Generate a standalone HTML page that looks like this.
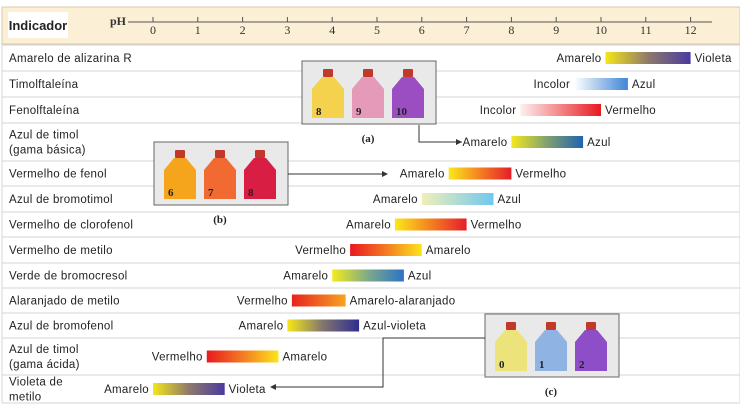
<!DOCTYPE html>
<html><head><meta charset="utf-8"><style>
body{margin:0;background:#fff;}
svg{display:block;font-family:"Liberation Sans","DejaVu Sans",sans-serif;}
</style></head><body>
<svg id="chart" width="740" height="405" viewBox="0 0 740 405">
<defs>
<linearGradient id="g-yv"><stop offset="0" stop-color="#f5e51a"/><stop offset="0.5" stop-color="#8e7a6a"/><stop offset="1" stop-color="#4a3aa0"/></linearGradient>
<linearGradient id="g-wb"><stop offset="0" stop-color="#ffffff"/><stop offset="1" stop-color="#3f86d4"/></linearGradient>
<linearGradient id="g-wr"><stop offset="0" stop-color="#fdf0ee"/><stop offset="1" stop-color="#e8191f"/></linearGradient>
<linearGradient id="g-yb"><stop offset="0" stop-color="#f3e81c"/><stop offset="0.5" stop-color="#7fa070"/><stop offset="1" stop-color="#1f63b0"/></linearGradient>
<linearGradient id="g-yr"><stop offset="0" stop-color="#fbe81a"/><stop offset="0.5" stop-color="#f48020"/><stop offset="1" stop-color="#e51d2a"/></linearGradient>
<linearGradient id="g-ylb"><stop offset="0" stop-color="#f1efb8"/><stop offset="1" stop-color="#6fc8ef"/></linearGradient>
<linearGradient id="g-ry"><stop offset="0" stop-color="#e8191f"/><stop offset="0.5" stop-color="#f47a22"/><stop offset="1" stop-color="#fbe51c"/></linearGradient>
<linearGradient id="g-yb2"><stop offset="0" stop-color="#f3ec1c"/><stop offset="0.5" stop-color="#7ea98a"/><stop offset="1" stop-color="#2a74c4"/></linearGradient>
<linearGradient id="g-ro"><stop offset="0" stop-color="#e8221f"/><stop offset="1" stop-color="#f7a420"/></linearGradient>
<linearGradient id="g-ybv"><stop offset="0" stop-color="#f5e81a"/><stop offset="0.5" stop-color="#807470"/><stop offset="1" stop-color="#2e2e90"/></linearGradient>
</defs>
<rect x="2" y="7" width="738" height="37" fill="#fbefd6" stroke="#d8c8a8"/>
<rect x="8" y="12" width="60" height="26" fill="#fff"/>
<text x="38" y="30" font-size="13" font-weight="bold" text-anchor="middle" fill="#222">Indicador</text>
<text x="110" y="25" font-size="12" font-weight="bold" font-family="Liberation Serif,serif" fill="#333">pH</text>
<line x1="128" y1="22" x2="712" y2="22" stroke="#555" stroke-width="1"/>
<g id="ticks"></g>
<g id="rows"></g>
<g id="bars"></g>
<g id="photos"></g>
</svg>
<script>
const phTicks=[0,1,2,3,4,5,6,7,8,9,10,11,12];
const indicators=["Amarelo de alizarina R","Timolftaleína","Fenolftaleína","Azul de timol|(gama básica)","Vermelho de fenol","Azul de bromotimol","Vermelho de clorofenol","Vermelho de metilo","Verde de bromocresol","Alaranjado de metilo","Azul de bromofenol","Azul de timol|(gama ácida)","Violeta de|metilo"];
const phLow=[10.1,9.4,8.2,8.0,6.6,6.0,5.4,4.4,4.0,3.1,3.0,1.2,0.0];
const phHigh=[12.0,10.6,10.0,9.6,8.0,7.6,7.0,6.0,5.6,4.3,4.6,2.8,1.6];
const acidColor=["Amarelo","Incolor","Incolor","Amarelo","Amarelo","Amarelo","Amarelo","Vermelho","Amarelo","Vermelho","Amarelo","Vermelho","Amarelo"];
const baseColor=["Violeta","Azul","Vermelho","Azul","Vermelho","Azul","Vermelho","Amarelo","Azul","Amarelo-alaranjado","Azul-violeta","Amarelo","Violeta"];
const grads=["g-yv","g-wb","g-wr","g-yb","g-yr","g-ylb","g-yr","g-ry","g-yb2","g-ro","g-ybv","g-ry","g-yv"];
const rowTop=[45,71,97,123,161,186,212,237,263,288,313,338,375];
const rowBot=[71,97,123,161,186,212,237,263,288,313,338,375,403];
const NS="http://www.w3.org/2000/svg";
function x(ph){return 153+44.8*ph;}
function mk(tag,attrs,parent){const e=document.createElementNS(NS,tag);for(const k in attrs)e.setAttribute(k,attrs[k]);parent.appendChild(e);return e;}
const tg=document.getElementById('ticks');
phTicks.forEach(t=>{
 const l=mk('line',{x1:x(t),y1:17,x2:x(t),y2:22,stroke:'#555'},tg);
 
 
 const tx=mk('text',{x:x(t),y:34,'font-size':12,'text-anchor':'middle','font-family':'Liberation Serif,serif',fill:'#333'},tg);
 tx.textContent=t;
 
 
});
const rg=document.getElementById('rows'),bg=document.getElementById('bars');
indicators.forEach((name,i)=>{
 const r=mk('rect',{x:2,y:rowTop[i],width:738,height:rowBot[i]-rowTop[i],fill:'#fff',stroke:'#d6d6d6'},rg);
 
 
 const cy=(rowTop[i]+rowBot[i])/2;
 const parts=name.split('|');
 parts.forEach((p,j)=>{
  const t=mk('text',{x:9,y:cy+4+(parts.length>1?(j-0.5)*15:0),'font-size':11.5,'letter-spacing':0.3,fill:'#222'},rg);
  t.textContent=p;
  
  
 });
 const x0=x(phLow[i]),x1=x(phHigh[i]);
 const b=mk('rect',{x:x0,y:cy-6,width:x1-x0,height:12,fill:'url(#'+grads[i]+')'},bg);
 
 
 const a=mk('text',{x:x0-4,y:cy+4,'font-size':11.5,'letter-spacing':0.3,'text-anchor':'end',fill:'#222'},bg);
 a.textContent=acidColor[i];
 
 
 const c=mk('text',{x:x1+4,y:cy+4,'font-size':11.5,'letter-spacing':0.3,fill:'#222'},bg);
 c.textContent=baseColor[i];
 
 
});
const pg=document.getElementById('photos');
function photo(bx,by,cols,nums,label,name){
 const g=mk('g',{},pg);
 
 
 mk('rect',{x:bx,y:by,width:134,height:63,fill:'#e9e9e9',stroke:'#666'},g);
 cols.forEach((c,k)=>{
  const cx=bx+26+k*40;
  mk('rect',{x:cx-5,y:by+8,width:10,height:8,fill:'#c0392b',rx:1},g);
  mk('path',{d:`M${cx-6} ${by+16} L${cx+6} ${by+16} L${cx+16} ${by+28} L${cx+16} ${by+57} L${cx-16} ${by+57} L${cx-16} ${by+28} Z`,fill:c},g);
  const t=mk('text',{x:cx-12,y:by+54,'font-size':11,'font-weight':'bold','font-family':'Liberation Serif,serif',fill:'#222'},g);
  t.textContent=nums[k];
 });
 const l=mk('text',{x:bx+66,y:by+81,'font-size':11,'font-weight':'bold','font-family':'Liberation Serif,serif','text-anchor':'middle',fill:'#222'},g);
 l.textContent=label;
}
photo(302,61,['#f4d24e','#e49ab8','#9a4ec2'],['8','9','10'],'(a)','photo-a');
photo(154,142,['#f5a51c','#f06a32','#d91e44'],['6','7','8'],'(b)','photo-b');
photo(485,314,['#ece47a','#8fb4e4','#8e4ec8'],['0','1','2'],'(c)','photo-c');
const arr=[
 {d:'M419 125 L419 142 L462 142',m:'462,142 456,139 456,145'},
 {d:'M288 174 L386 174',m:'388,174 382,171 382,177'},
 {d:'M485 338 L383 338 L383 387 L272 387',m:'270,387 276,384 276,390'}];
arr.forEach(a=>{
 const p=mk('path',{d:a.d,fill:'none',stroke:'#333','stroke-width':1},pg);
 
 
 mk('polygon',{points:a.m,fill:'#333'},pg);
});
</script>
</body></html>
